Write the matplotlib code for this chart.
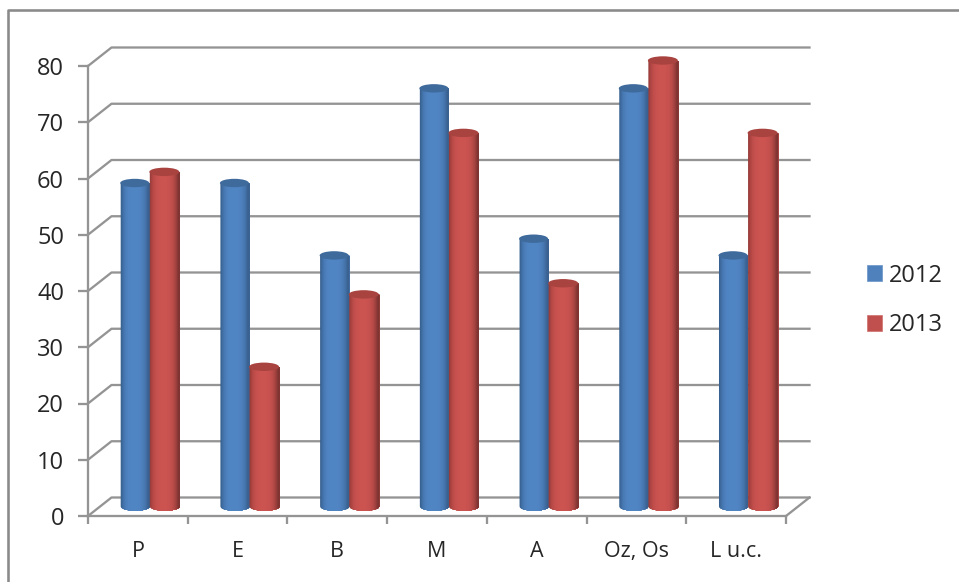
import numpy as np
import matplotlib
matplotlib.use("Agg")
import matplotlib.pyplot as plt
from matplotlib.lines import Line2D
from matplotlib.patches import Ellipse, Patch

categories = ["P", "E", "B", "M", "A", "Oz, Os", "L u.c."]
series_names = ["2012", "2013"]
values_2012 = [58, 58, 45, 75, 48, 75, 45]
values_2013 = [60, 25, 38, 67, 40, 80, 67]
y_ticks = [0, 10, 20, 30, 40, 50, 60, 70, 80]

W, H = 959, 582
GRID = "#949494"
TXT = "#262626"
plt.rcParams["font.family"] = ["Open Sans", "DejaVu Sans"]

fig = plt.figure(figsize=(W / 100, H / 100), dpi=100, facecolor="white")
L, R, B, T = 88, 786, 516, 66
ax = fig.add_axes([L / W, 1 - B / H, (R - L) / W, (B - T) / H])
ax.set_xlim(0, 7)
ax.set_ylim(0, 80)
ax.patch.set_visible(False)

px_x = 7 / (R - L)          # data x per pixel
px_y = 80 / (B - T)         # data y per pixel
dx, dy = 23.5 * px_x, 18.5 * px_y

lw_px = 2.3 * 0.72
fig.add_artist(Line2D([7.5 / W, 7.5 / W, 1], [0, 1 - 10 / H, 1 - 10 / H], color="#8a8a8a", lw=2.6 * 0.72))

for t in y_ticks:
    ax.plot([0, dx, 7 + dx], [t, t + dy, t + dy], color=GRID, lw=lw_px, clip_on=False, zorder=1,
            solid_joinstyle="round")
ax.plot([7, 7 + dx], [0, dy], color=GRID, lw=lw_px, clip_on=False, zorder=1)

for s in ("top", "right"):
    ax.spines[s].set_visible(False)
for s in ("left", "bottom"):
    ax.spines[s].set_color(GRID)
    ax.spines[s].set_linewidth(lw_px)
    ax.spines[s].set_zorder(1.5)

ax.set_yticks(y_ticks)
ax.tick_params(axis="y", length=7.2, width=lw_px, color=GRID, pad=10, labelsize=17, labelcolor=TXT)
ax.set_xticks(np.arange(8))
ax.set_xticklabels([])
ax.set_xticks(np.arange(7) + 0.5, labels=categories, minor=True)
ax.tick_params(axis="x", which="major", length=6, width=lw_px, color=GRID)
ax.tick_params(axis="x", which="minor", length=0, pad=18, labelsize=15.5, labelcolor=TXT)

BASE = 10 * px_y
SCALE = 0.99
RY = 4.2 * px_y


def cylinder(xc, v, half, mid, dark, edge, top, z):
    n = 40
    starts = np.linspace(xc - half, xc + half, n + 1)[:-1]
    xs_all = np.linspace(xc - half, xc + half, 81)
    mid, dark, edge = map(lambda c: np.array(matplotlib.colors.to_rgb(c)), (mid, dark, edge))
    yt = BASE + v * SCALE
    for a in starts:
        uc = (a + half / n - xc) / half
        f = min(1, abs(uc + 0.1) ** 3.4 * (1.0 if uc > -0.1 else 1.25))
        col = mid * (1 - f) + (dark if uc < 0 else edge) * f
        # each band runs on to the right edge, the next one paints over it
        xs = np.concatenate(([a], xs_all[xs_all > a]))
        us = np.clip((xs - xc) / half, -1, 1)
        ax.fill_between(xs, BASE - RY * np.sqrt(1 - us ** 2), yt, color=col, lw=0, clip_on=False, zorder=z)
    ax.add_patch(Ellipse((xc, yt), 2 * half, 2 * RY, facecolor=top, edgecolor="none", clip_on=False, zorder=z + 0.1))


half_b, half_r = 14.5 * px_x, 15 * px_x
for i in range(len(categories)):
    cylinder(i + 46.7 * px_x, values_2012[i], half_b, "#5085c4", "#2f5580", "#3a6190", "#3f6a9c", 3)
    cylinder(i + 76.3 * px_x, values_2013[i], half_r, "#cb5350", "#8a3533", "#7f3432", "#a8433f", 4)

handles = [Patch(facecolor="#4f81bd", edgecolor="#6a95c9", lw=0.5, label=series_names[0]),
           Patch(facecolor="#c0504d", edgecolor="#d0706d", lw=0.5, label=series_names[1])]
fs_px = 17 * 100 / 72
leg = fig.legend(handles=handles, loc="center left", bbox_to_anchor=(859.5 / W, 1 - 300.5 / H), frameon=False,
                 fontsize=17, labelcolor=TXT, handlelength=15 / fs_px, handleheight=15 / fs_px,
                 handletextpad=7 / fs_px, labelspacing=1.1, borderpad=0, borderaxespad=0.3)

fig.savefig("out.png", dpi=100, facecolor="white")
